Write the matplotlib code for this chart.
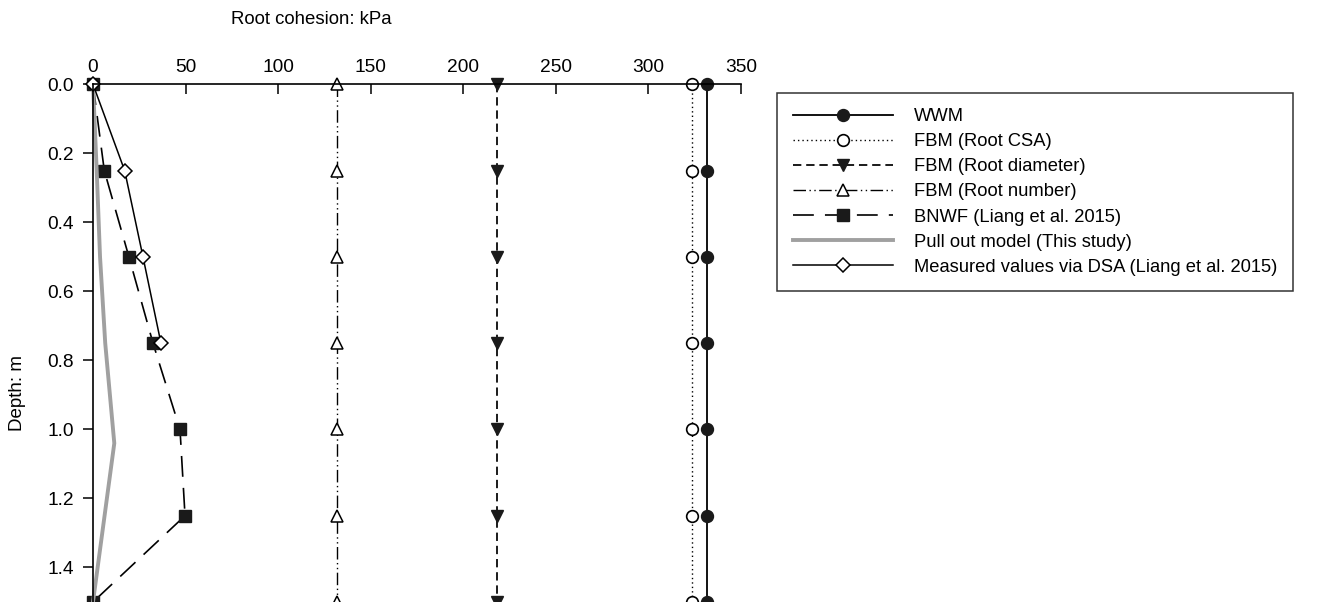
import matplotlib
matplotlib.use("Agg")
import matplotlib.pyplot as plt

plt.rcParams['font.family'] = ['Liberation Sans', 'DejaVu Sans']
plt.rcParams['lines.scale_dashes'] = False

depth = [0.0, 0.25, 0.5, 0.75, 1.0, 1.25, 1.5]
wwm = [331.5] * 7
fbm_csa = [323.3] * 7
fbm_diam = [218.4] * 7
fbm_num = [132.0] * 7
bnwf = [0.0, 6.1, 19.4, 32.4, 47.0, 49.7, 0.0]
pull_depth = [0.0, 0.25, 0.5, 0.75, 1.04, 1.5]
pull_vals = [0.0, 2.0, 3.8, 6.6, 11.5, 0.0]
dsa_depth = [0.0, 0.25, 0.5, 0.75]
dsa_vals = [0.0, 17.1, 27.0, 36.7]
xticks = [0, 50, 100, 150, 200, 250, 300, 350]
yticks = [0.0, 0.2, 0.4, 0.6, 0.8, 1.0, 1.2, 1.4]

fig = plt.figure(figsize=(13.43, 6.02), dpi=100)
ax = fig.add_axes([93/1343, 0.0, (741-93)/1343, (602-84.3)/602])

ax.plot(wwm, depth, color='black', lw=1.3, marker='o', ms=8.6, mfc='#1a1a1a', mec='#1a1a1a',
        label='WWM', clip_on=False)
ax.plot(fbm_csa, depth, color='black', lw=1.0, ls=(0, (1, 2.2)), marker='o', ms=8.4, mfc='white',
        mec='black', mew=1.2, label='FBM (Root CSA)', clip_on=False)
ax.plot(fbm_diam, depth, color='#1a1a1a', lw=1.4, ls=(0, (6, 3.5)), marker='v', ms=9,
        mfc='#1a1a1a', mec='#1a1a1a', label='FBM (Root diameter)', clip_on=False)
ax.plot(fbm_num, depth, color='black', lw=1.0, ls=(0, (9, 2.5, 1, 2.5, 1, 2.5)), marker='^', ms=9,
        mfc='white', mec='black', mew=1.1, label='FBM (Root number)', clip_on=False)
ax.plot(bnwf, depth, color='black', lw=1.2, ls=(0, (15, 8)), marker='s', ms=8.3,
        mfc='#1a1a1a', mec='#1a1a1a', label='BNWF (Liang et al. 2015)', clip_on=False)
ax.plot(pull_vals, pull_depth, color='#a0a0a0', lw=2.8, label='Pull out model (This study)',
        clip_on=False)
ax.plot(dsa_vals, dsa_depth, color='black', lw=1.1, marker='D', ms=6.8, mfc='white',
        mec='black', mew=1.1, label='Measured values via DSA (Liang et al. 2015)', clip_on=False)

ax.set_xlim(0, 350)
ax.set_ylim(1.5, 0.0)
ax.xaxis.tick_top()
ax.set_xticks(xticks)
ax.set_yticks(yticks)
ax.set_yticklabels([f"{v:.1f}" for v in yticks])
ax.tick_params(axis='x', direction='in', length=7, width=1.1, labelsize=13.8, pad=6)
ax.tick_params(axis='y', direction='out', length=7, width=1.1, labelsize=13.8, pad=6.5)
for s in ['right', 'bottom']:
    ax.spines[s].set_visible(False)
for s in ['top', 'left']:
    ax.spines[s].set_linewidth(1.2)

fig.text(311/1343, 1 - 20/602, 'Root cohesion: kPa', ha='center', va='center', fontsize=13.4)
fig.text(17/1343, 1 - 393/602, 'Depth: m', ha='center', va='center', rotation=90, fontsize=13.5)

leg = ax.legend(loc='upper left', bbox_to_anchor=(777/1343, 1 - 92.7/602),
                bbox_transform=fig.transFigure, fontsize=13.2, frameon=True, fancybox=False,
                edgecolor='black', handlelength=5.45, handletextpad=1.15, labelspacing=0.44,
                borderpad=0.85, borderaxespad=0, numpoints=1)
leg.get_frame().set_linewidth(1.1)

fig.savefig('out.png', dpi=100)
